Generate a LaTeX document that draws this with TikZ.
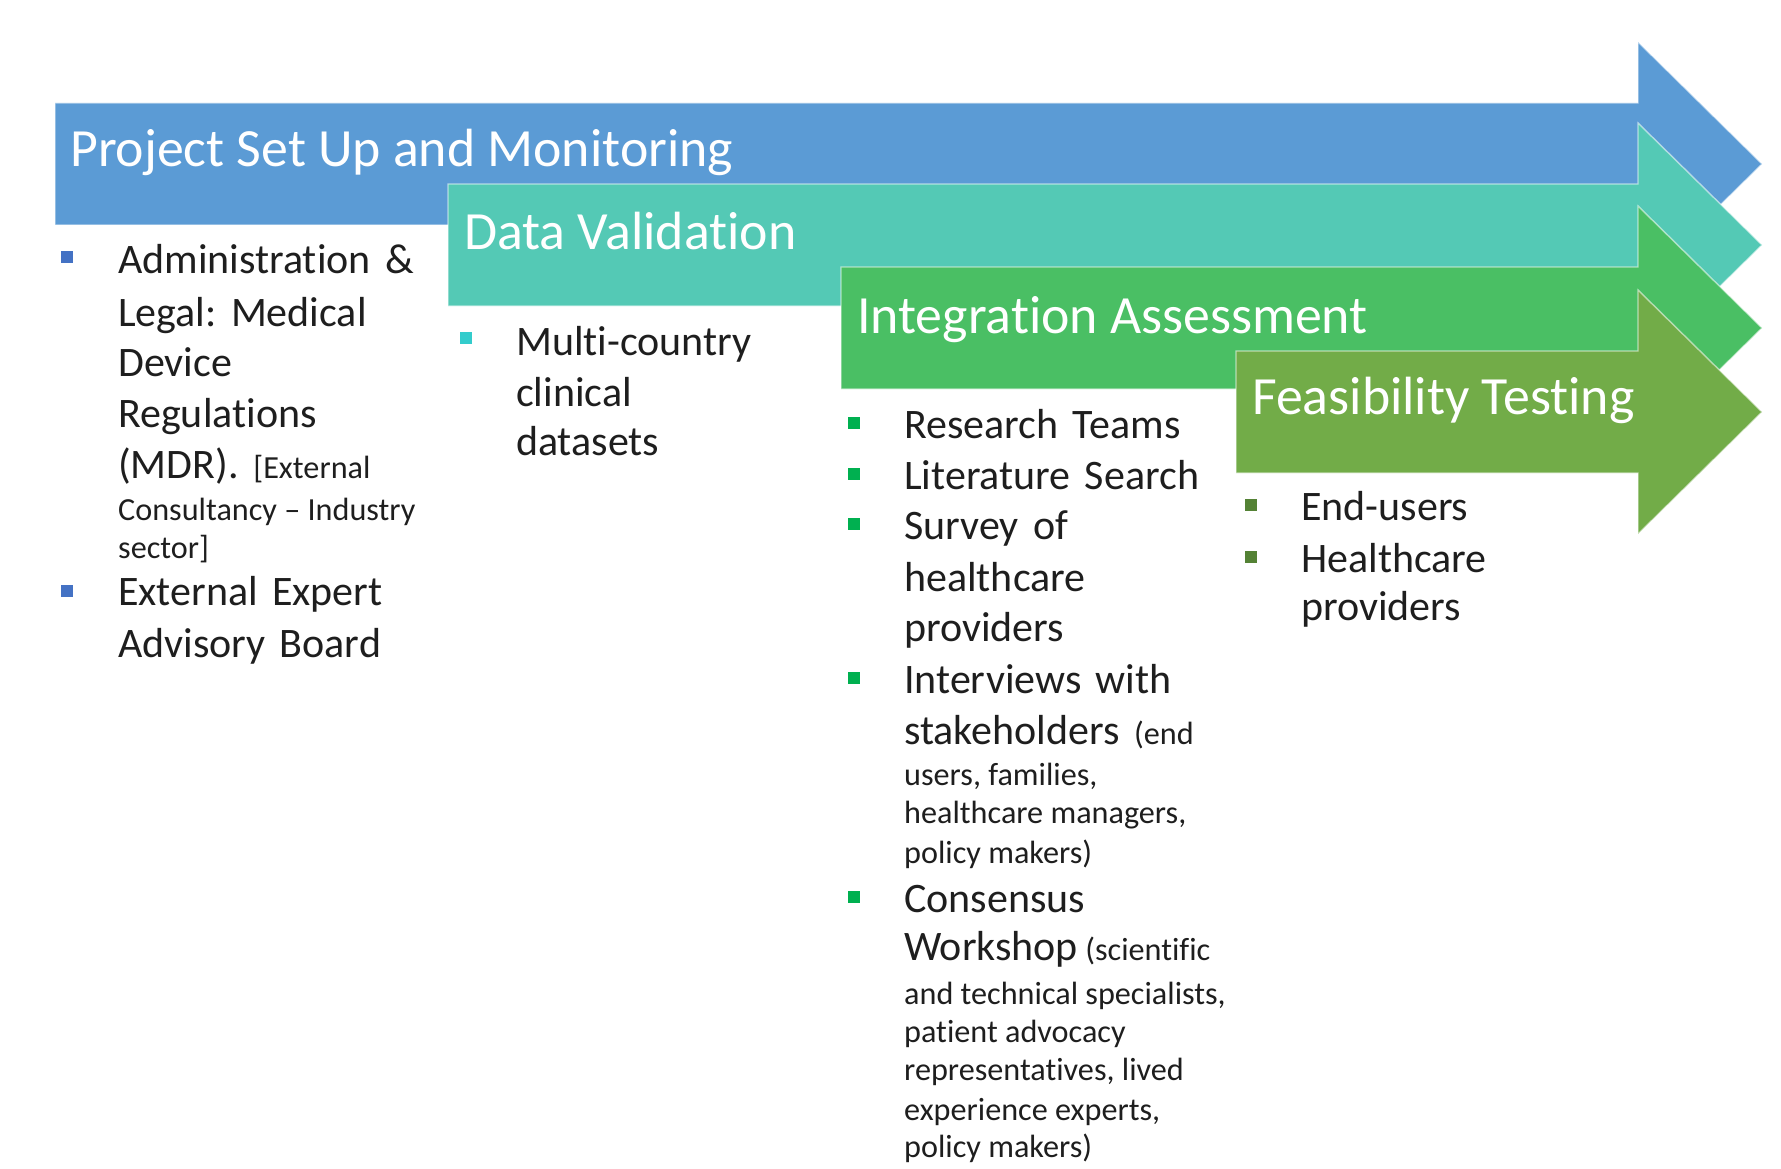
\documentclass[tikz,border=0pt]{standalone}
\usepackage{fontspec}
\setmainfont{Carlito}[Ligatures=NoCommon]
\definecolor{cBlue}{HTML}{5B9BD5}
\definecolor{cTeal}{HTML}{54C9B5}
\definecolor{cGreen}{HTML}{4ABF64}
\definecolor{cOlive}{HTML}{72AC48}
\definecolor{bBlue}{HTML}{4472C4}
\definecolor{bTeal}{HTML}{33CCCC}
\definecolor{bGreen}{HTML}{00B050}
\definecolor{bOlive}{HTML}{548235}
\definecolor{txt}{HTML}{1E1E1E}
\frenchspacing
\newcommand\phtitle{\fontsize{53.8}{64}\selectfont}
\newcommand\phbig{\fontsize{42}{50}\selectfont\spaceskip=0.34em plus 0.05em\relax}
\newcommand\phsmall{\fontsize{32.2}{38}\selectfont\spaceskip=0pt\relax}
\begin{document}
\begin{tikzpicture}[x=1pt,y=-1pt,
  phase/.style={fill=#1, draw=white, draw opacity=0.55, line width=1.4pt, line join=miter},
  ttl/.style={anchor=base west, inner sep=0pt, text=white, font=\phtitle},
  bigline/.style={anchor=base west, inner sep=0pt, text=txt, font=\phbig},
  smline/.style={anchor=base west, inner sep=0pt, text=txt, font=\phsmall},
  bul/.style={fill=#1, draw=none, minimum size=12pt, inner sep=0pt, rectangle}]
\useasboundingbox (0,0) rectangle (1781,1169);

% the four overlapping phase arrows, drawn back to front
\foreach \lx/\ty/\col in {55/103/cBlue, 448/184/cTeal, 841/267/cGreen, 1236/351/cOlive}{
  \path[phase=\col] (\lx,\ty) -- (1638,\ty) -- (1638,\ty-61) -- (1762,\ty+61)
     -- (1638,\ty+183) -- (1638,\ty+122) -- (\lx,\ty+122) -- cycle;
}

% phase titles
\node[ttl] (t1) at (70,167) {Project Set Up and Monitoring};
\node[ttl] (t2) at (464,250) {Data Validation};
\node[ttl] (t3) at (857,333) {Integration Assessment};
\node[ttl] (t4) at (1252,414) {Feasibility Testing};

% column 1
\node[bul=bBlue] (b1a) at (66.5,257.5) {};
\node[bul=bBlue] (b1b) at (66.5,590.5) {};
\node[bigline] (c1a) at (118,273) {Administration \&};
\node[bigline] (c1b) at (118,326) {Legal: Medical};
\node[bigline] (c1c) at (118,376) {Device};
\node[bigline] (c1d) at (118,427) {Regulations};
\node[bigline] (c1e) at (118,478) {(MDR).{\phsmall\ \ [External}};
\node[smline] (c1f) at (118,520) {Consultancy \textendash\ Industry};
\node[smline] (c1g) at (118,558) {sector]};
\node[bigline] (c1h) at (118,605) {External Expert};
\node[bigline] (c1i) at (118,657) {Advisory Board};

% column 2
\node[bul=bTeal] (b2a) at (466,337.5) {};
\node[bigline] (c2a) at (516,355) {Multi-country};
\node[bigline] (c2b) at (516,406) {clinical};
\node[bigline] (c2c) at (516,455) {datasets};

% column 3
\node[bul=bGreen] (b3a) at (854,422.5) {};
\node[bul=bGreen] (b3b) at (854,473.5) {};
\node[bul=bGreen] (b3c) at (854,523.5) {};
\node[bul=bGreen] (b3d) at (854,677.5) {};
\node[bul=bGreen] (b3e) at (854,897) {};
\node[bigline] (c3a) at (904,438) {Research Teams};
\node[bigline] (c3b) at (904,489) {Literature Search};
\node[bigline] (c3c) at (904,539) {Survey of};
\node[bigline] (c3d) at (904,591) {healthcare};
\node[bigline] (c3e) at (904,641) {providers};
\node[bigline] (c3f) at (904,693) {Interviews with};
\node[bigline] (c3g) at (904,744) {stakeholders{\phsmall\ \ (end}};
\node[smline] (c3h) at (904,785) {users, families,};
\node[smline] (c3i) at (904,823) {healthcare managers,};
\node[smline] (c3j) at (904,863) {policy makers)};
\node[bigline] (c3k) at (904,912) {Consensus};
\node[bigline] (c3l) at (904,960) {Workshop{\phsmall\ (scientific}};
\node[smline] (c3m) at (904,1004) {and technical specialists,};
\node[smline] (c3n) at (904,1042) {patient advocacy};
\node[smline] (c3o) at (904,1080) {representatives, lived};
\node[smline] (c3p) at (904,1120) {experience experts,};
\node[smline] (c3q) at (904,1157) {policy makers)};

% column 4
\node[bul=bOlive] (b4a) at (1250.5,505) {};
\node[bul=bOlive] (b4b) at (1250.5,557) {};
\node[bigline] (c4a) at (1301,520) {End-users};
\node[bigline] (c4b) at (1301,572) {Healthcare};
\node[bigline] (c4c) at (1301,620) {providers};
\end{tikzpicture}
\end{document}
